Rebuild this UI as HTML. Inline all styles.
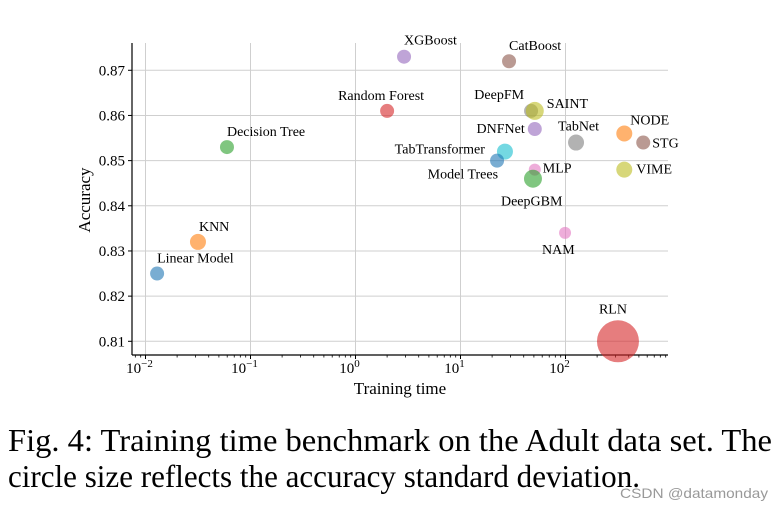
<!DOCTYPE html>
<html><head><meta charset="utf-8"><style>
body{margin:0;background:#fff;}
svg{display:block;font-family:"Liberation Serif",serif;}
</style></head><body>
<svg id="chart" width="783" height="511" viewBox="0 0 783 511" xmlns="http://www.w3.org/2000/svg">
<g id="grid"></g>
<g id="axes"></g>
<g id="marks"></g>
<g id="labels"></g>
<text x="0" y="0" transform="translate(90,200) rotate(-90)" text-anchor="middle" font-size="17">Accuracy</text>
<text x="400" y="394" text-anchor="middle" font-size="17">Training time</text>
<text x="8" y="451" font-size="32" textLength="764" lengthAdjust="spacingAndGlyphs">Fig. 4: Training time benchmark on the Adult data set. The</text>
<text x="8" y="487" font-size="32" textLength="632" lengthAdjust="spacingAndGlyphs">circle size reflects the accuracy standard deviation.</text>
<text x="620" y="498" font-size="14" fill="#999" font-family="Liberation Sans, sans-serif" textLength="148" lengthAdjust="spacingAndGlyphs">CSDN @datamonday</text>
</svg>
<script>
const names=["Linear Model","KNN","Decision Tree","Random Forest","XGBoost","CatBoost","DeepFM","SAINT","DNFNet","TabNet","NODE","STG","VIME","TabTransformer","Model Trees","MLP","DeepGBM","NAM","RLN"];
const times=[0.0129,0.0316,0.0597,2.0,2.9,29,47,51,51,126,363,550,363,26.5,22.3,51,49,99,316];
const accs=[0.825,0.832,0.853,0.861,0.873,0.872,0.861,0.861,0.857,0.854,0.856,0.854,0.848,0.852,0.850,0.848,0.846,0.834,0.810];
const radii=[7,8,7,7,7,7,7,9,7,8,8,7,8,8,7,6,9,6,21];
const colors=["#1f77b4","#ff7f0e","#2ca02c","#d62728","#9467bd","#8c564b","#7f7f7f","#bcbd22","#9467bd","#7f7f7f","#ff7f0e","#8c564b","#bcbd22","#17becf","#1f77b4","#e377c2","#2ca02c","#e377c2","#d62728"];
const yTicks=[0.81,0.82,0.83,0.84,0.85,0.86,0.87];
const xTicks=[-2,-1,0,1,2];
// label offsets [dx, dy, anchor]
const labelPos=[[0,-11,"start"],[1,-11,"start"],[0,-11,"start"],[-49,-11,"start"],[0,-12,"start"],[0,-11,"start"],[-7,-12,"end"],[12,-3,"start"],[-10,4,"end"],[-18,-12,"start"],[6,-9,"start"],[9,5,"start"],[12,4,"start"],[-20,2,"end"],[1,18,"end"],[8,3,"start"],[-32,27,"start"],[-23,21,"start"],[-19,-28,"start"]];
const NS="http://www.w3.org/2000/svg";
const X0=132,X1=668,Y0=43,Y1=355;
function xs(t){return 145.5+(Math.log10(t)+2)*105;}
function ys(a){return 341.3-(a-0.81)/0.01*45.17;}
function mk(tag,attrs,parent){const e=document.createElementNS(NS,tag);for(const k in attrs)e.setAttribute(k,attrs[k]);parent.appendChild(e);return e;}
const grid=document.getElementById('grid'),axes=document.getElementById('axes'),marks=document.getElementById('marks'),labels=document.getElementById('labels');
yTicks.forEach(v=>{const y=ys(v);
 const g=mk('line',{x1:X0,x2:X1,y1:y,y2:y,stroke:'#cfcfcf','stroke-width':1},grid);
 
 
 const t=mk('line',{x1:X0-4,x2:X0,y1:y,y2:y,stroke:'#000'},axes);
 
 
 const l=mk('text',{x:X0-7,y:y+5,'text-anchor':'end','font-size':15},axes);l.textContent=v.toFixed(2);
 
 
});
xTicks.forEach(p=>{const x=xs(Math.pow(10,p));
 const g=mk('line',{x1:x,x2:x,y1:Y0,y2:Y1,stroke:'#cfcfcf','stroke-width':1},grid);
 
 
 const t=mk('line',{x1:x,x2:x,y1:Y1,y2:Y1+4,stroke:'#000'},axes);
 
 
 const l=mk('text',{x:x-6,y:373,'text-anchor':'middle','font-size':15},axes);
 
 
 l.textContent='10';const s=mk('tspan',{dy:-6,'font-size':11},l);s.textContent=p<0?'\u2212'+(-p):String(p);
});
for(let p=-3;p<=2;p++)for(let m=2;m<=9;m++){const x=xs(m*Math.pow(10,p));if(x<X0||x>X1)continue;
 const t=mk('line',{x1:x,x2:x,y1:Y1,y2:Y1+2.5,stroke:'#000','stroke-width':0.8},axes);
 
 }
const sp1=mk('line',{x1:X0,x2:X0,y1:Y0,y2:Y1,stroke:'#000','stroke-width':1.2},axes);


const sp2=mk('line',{x1:X0,x2:X1,y1:Y1,y2:Y1,stroke:'#000','stroke-width':1.2},axes);


names.forEach((n,i)=>{const cx=xs(times[i]),cy=ys(accs[i]);
 const c=mk('circle',{cx:cx,cy:cy,r:radii[i],fill:colors[i],'fill-opacity':0.6},marks);
 
 
 const lp=labelPos[i];
 const t=mk('text',{x:cx+lp[0],y:cy+lp[1],'text-anchor':lp[2],'font-size':14},labels);t.textContent=n;
 
 
});
</script>
</body></html>
